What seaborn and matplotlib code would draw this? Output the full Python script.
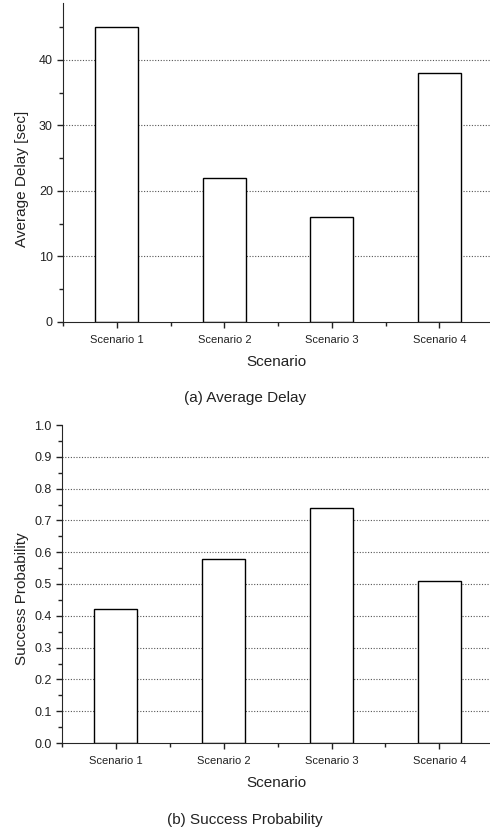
import pandas as pd
import numpy as np
import matplotlib.pyplot as plt
import seaborn as sns
from matplotlib.ticker import MultipleLocator

# values
scenarios = ['Scenario 1', 'Scenario 2', 'Scenario 3', 'Scenario 4']
avg_delay = [45, 22, 16, 38]
success_prob = [0.42, 0.58, 0.74, 0.51]

sns.set_style("ticks")
plt.rcParams['font.family'] = ['Liberation Sans', 'DejaVu Sans']
plt.rcParams['xtick.direction'] = 'out'
plt.rcParams['ytick.direction'] = 'out'

fig = plt.figure(figsize=(4.9, 8.33), dpi=100)
ax1 = fig.add_axes([63/490, 1 - 322/833, 1 - 63/490, (322 - 3)/833])
ax2 = fig.add_axes([62/490, 1 - 743/833, 1 - 62/490, (743 - 425)/833])

df1 = pd.DataFrame({'Scenario': scenarios, 'Average Delay [sec]': avg_delay})
df2 = pd.DataFrame({'Scenario': scenarios, 'Success Probability': success_prob})

sns.barplot(data=df1, x='Scenario', y='Average Delay [sec]', color='white',
            edgecolor='black', linewidth=1.0, width=0.4, saturation=1, ax=ax1)
sns.barplot(data=df2, x='Scenario', y='Success Probability', color='white',
            edgecolor='black', linewidth=1.0, width=0.4, saturation=1, ax=ax2)

for ax in [ax1, ax2]:
    ax.set_xlim(-0.5, 3.47)
    ax.spines['top'].set_visible(False)
    ax.spines['right'].set_visible(False)
    ax.set_axisbelow(True)
    ax.xaxis.set_minor_locator(MultipleLocator(1, offset=0.5))
    ax.tick_params(axis='both', which='major', length=4.3, width=1, color='#222222', labelcolor='#222222')
    ax.tick_params(axis='both', which='minor', length=2.8, width=1, color='#222222')
    ax.tick_params(axis='x', which='major', labelsize=8, pad=5)
    ax.tick_params(axis='y', which='major', labelsize=9, pad=3)
    ax.set_xlabel('Scenario', fontsize=11, color='#222222', labelpad=7)
    ax.yaxis.label.set_size(11)
    ax.yaxis.label.set_color('#222222')

ax1.set_ylim(0, 48.7)
ax1.yaxis.set_major_locator(MultipleLocator(10))
ax1.yaxis.set_minor_locator(MultipleLocator(5))
for v in [10, 20, 30, 40]:
    ax1.axhline(v, color='#555555', linestyle=(0, (1, 1.5)), linewidth=0.8, zorder=0)

ax2.set_ylim(0, 1.0)
ax2.yaxis.set_major_locator(MultipleLocator(0.1))
ax2.yaxis.set_minor_locator(MultipleLocator(0.05))
ax2.yaxis.set_major_formatter(plt.FormatStrFormatter('%.1f'))
for v in np.arange(1, 10) / 10:
    ax2.axhline(v, color='#555555', linestyle=(0, (1, 1.5)), linewidth=0.8, zorder=0)

ax1.yaxis.set_label_coords(-0.08, 0.45)
ax2.yaxis.set_label_coords(-0.077, 0.455)

fig.text(0.5, 1 - 398/833, '(a) Average Delay', ha='center', va='center', fontsize=11, color='#222222')
fig.text(0.5, 1 - 820/833, '(b) Success Probability', ha='center', va='center', fontsize=11, color='#222222')

fig.savefig('out.png', dpi=100)
